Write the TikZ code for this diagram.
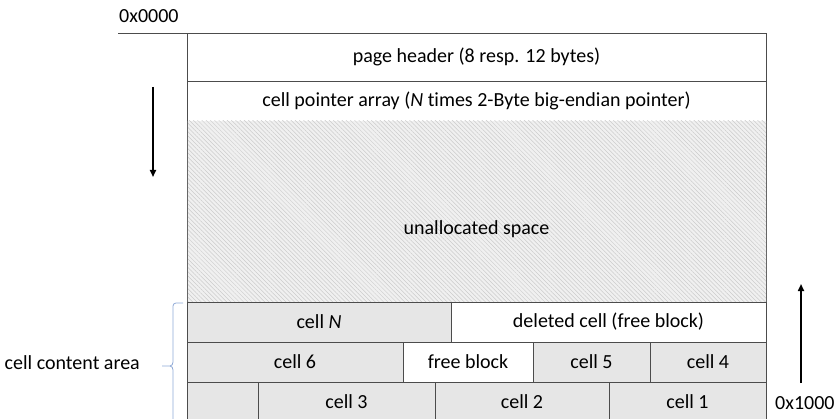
\documentclass[tikz,border=0pt]{standalone}
\usepackage{fontspec}
\setmainfont{Carlito}[Ligatures={NoCommon}]
\usetikzlibrary{patterns.meta,arrows.meta}
\definecolor{cellgray}{HTML}{E6E6E6}
\definecolor{bracecol}{HTML}{8FA9D6}
\tikzset{
  blk/.style={draw=black!70,line width=0.9pt,font=\fontsize{20}{24}\selectfont},
  used/.style={blk,fill=cellgray},
  free/.style={blk,fill=white},
  lbl/.style={font=\fontsize{20}{24}\selectfont,inner sep=0pt},
  dirarrow/.style={-{Triangle[length=7pt,width=6pt]},line width=1.6pt}
}
\begin{document}
\begin{tikzpicture}[x=1pt,y=-1pt]
\useasboundingbox (0,0) rectangle (834,419);
% header and pointer array
\draw[free] (187,33) rectangle (766,81) node[midway] (hdr) {page header (8 resp. 12 bytes)};
\draw[free] (187,81) rectangle (766,121) node[midway] (cpa) {cell pointer array (\textit{N} times 2-Byte big-endian pointer)};
% unallocated
\fill[gray!12] (187,121) rectangle (766,302);
\fill[pattern={Lines[angle=-45,distance=3pt,line width=0.5pt]},pattern color=gray!40] (187,121) rectangle (766,302);
\draw[black!60,line width=0.9pt] (187,121) -- (187,302) (766,121) -- (766,302);
\node[lbl] (unalloc) at (476.5,229) {unallocated space};
% row 1
\draw[used] (187,302) rectangle (451,342) node[midway] (cellN) {cell \textit{N}};
\draw[free] (451,302) rectangle (766,342) node[midway] (del) {deleted cell (free block)};
% row 2
\draw[used] (187,342) rectangle (403,382) node[midway] (c6) {cell 6};
\draw[free] (403,342) rectangle (533,382) node[midway] (fb) {free block};
\draw[used] (533,342) rectangle (650,382) node[midway] (c5) {cell 5};
\draw[used] (650,342) rectangle (766,382) node[midway] (c4) {cell 4};
% row 3
\draw[used] (187,382) rectangle (258,425) node[midway] (c0) {};
\draw[used] (258,382) rectangle (435,425) node[midway,yshift=2pt] (c3) {cell 3};
\draw[used] (435,382) rectangle (609,425) node[midway,yshift=2pt] (c2) {cell 2};
\draw[used] (609,382) rectangle (766,425) node[midway,yshift=2pt] (c1) {cell 1};
% top address line
\coordinate (topl) at (118,33);
\coordinate (topr) at (187,33);
\draw[black!70,line width=0.9pt] (topl) -- (topr);
\node[lbl,anchor=west] (a0) at (119,16) {0x0000};
\node[lbl,anchor=west] (a1) at (775,403) {0x1000};
% arrows
\coordinate (dn1) at (153,87);
\coordinate (dn2) at (153,177);
\draw[dirarrow] (dn1) -- (dn2);
\coordinate (up1) at (801,383);
\coordinate (up2) at (801,284);
\draw[dirarrow] (up1) -- (up2);
% brace
\node[lbl,anchor=east] (cca) at (140,363) {cell content area};
\coordinate (b1) at (183,303);
\draw[bracecol,line width=0.8pt] (b1) -- (176,303) to[out=180,in=90] (173,306) -- (173,362) to[out=-90,in=0] (170,366) -- (162,366);
\draw[bracecol,line width=0.8pt] (170,366) to[out=0,in=90] (173,370) -- (173,425);
\end{tikzpicture}
\end{document}
